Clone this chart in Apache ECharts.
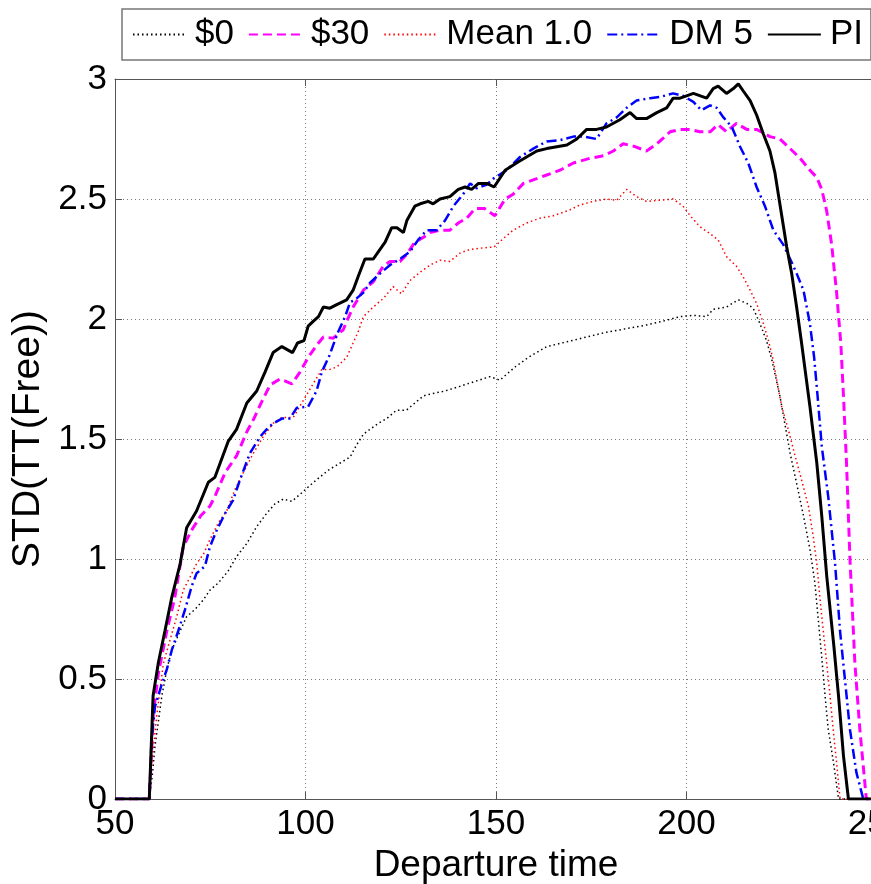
<!DOCTYPE html>
<html>
<head>
<meta charset="utf-8">
<script src="https://cdn.jsdelivr.net/npm/echarts@6/dist/echarts.min.js"></script>
<style>
html,body{margin:0;padding:0;background:#fff;}
#chart{width:871px;height:884px;}
</style>
</head>
<body>
<div id="chart"></div>
<script>
const seriesNames = ['$0', '$30', 'Mean 1.0', 'DM 5', 'PI'];
const xTicks = [50, 100, 150, 200, 250];
const yTicks = [0, 0.5, 1, 1.5, 2, 2.5, 3];

const s0Data = [[50,0],[59,0],[59.8,0.1],[60.5,0.22],[62.3,0.43],[63.6,0.54],[64.9,0.62],[67.1,0.70],[68.8,0.76],[71,0.79],[73.2,0.83],[74.9,0.87],[77.1,0.90],[79.7,0.95],[81.9,1.01],[84.6,1.065],[87.2,1.135],[89.8,1.19],[92,1.23],[94.2,1.25],[96.4,1.24],[98.6,1.27],[100.7,1.30],[102.9,1.33],[106,1.37],[109.1,1.40],[111.7,1.425],[113.4,1.475],[115.2,1.52],[116.9,1.54],[119.1,1.565],[121.3,1.585],[123.9,1.62],[126.5,1.62],[128.7,1.65],[131,1.68],[133.5,1.69],[136.6,1.70],[140.6,1.72],[144.5,1.74],[148.4,1.76],[151,1.745],[155,1.80],[158.5,1.84],[163.3,1.885],[168.6,1.905],[173.8,1.925],[179,1.945],[184.3,1.96],[189.5,1.975],[194.8,1.995],[198.3,2.01],[201.8,2.015],[205.3,2.01],[207,2.04],[210.5,2.05],[213.6,2.08],[215.8,2.065],[217.5,2.045],[219.3,1.98],[221,1.91],[222.4,1.83],[224.5,1.68],[225.8,1.565],[227.2,1.44],[228.9,1.315],[230.7,1.18],[232.4,1.04],[233.7,0.90],[234.6,0.745],[235.5,0.59],[236.4,0.425],[237.2,0.29],[238.6,0.15],[239.9,0],[250,0]];

const s30Data = [[50,0],[59,0],[60.1,0.36],[61.4,0.525],[63.6,0.70],[65.7,0.84],[67.9,1.05],[70.1,1.12],[72.5,1.18],[74.9,1.22],[76.2,1.26],[78.9,1.36],[81.9,1.43],[84.6,1.53],[86.3,1.58],[88.5,1.655],[90.7,1.725],[93.3,1.75],[96.4,1.73],[98.6,1.78],[100.7,1.84],[102.9,1.89],[104.7,1.925],[107.3,1.92],[109.9,1.955],[110.8,1.99],[112.5,2.05],[115.2,2.12],[117.8,2.155],[120.4,2.22],[122.2,2.24],[124.8,2.24],[126.6,2.27],[128.7,2.32],[130.9,2.34],[132.7,2.36],[135.3,2.37],[137.9,2.37],[140.1,2.40],[142.3,2.42],[144.5,2.46],[147,2.46],[149.7,2.43],[152.4,2.50],[154.5,2.52],[157.2,2.565],[160.7,2.585],[163.3,2.60],[166.8,2.62],[170.3,2.65],[174.7,2.67],[178.2,2.68],[180.8,2.70],[183.4,2.73],[186.1,2.72],[189.5,2.70],[192.2,2.73],[195.7,2.78],[198.3,2.79],[200.9,2.79],[203.5,2.78],[206.2,2.78],[208.3,2.81],[210.5,2.78],[213.1,2.815],[215.8,2.79],[218.4,2.79],[221.9,2.76],[224.5,2.75],[227.2,2.71],[229.8,2.67],[232.4,2.62],[234.2,2.59],[235.5,2.54],[236.8,2.45],[238.1,2.31],[239.4,2.11],[240.5,1.90],[241.2,1.68],[242,1.40],[242.9,1.00],[244.2,0.565],[245.5,0.29],[247.2,0],[250,0]];

const meanData = [[50,0],[59,0],[59.5,0.12],[60.9,0.34],[62.7,0.565],[64.4,0.66],[66.2,0.76],[67.9,0.87],[69.7,0.925],[71.4,0.98],[73.2,1.02],[74.9,1.08],[77.1,1.15],[79.3,1.20],[81.5,1.29],[83.7,1.36],[86.3,1.44],[88.9,1.51],[91.5,1.565],[93.8,1.59],[96.8,1.59],[99.4,1.66],[102,1.73],[104.3,1.79],[106.4,1.79],[108.2,1.80],[110.8,1.84],[112.5,1.90],[113.9,1.95],[115.2,2.01],[117.8,2.05],[120.4,2.085],[123,2.135],[125.2,2.105],[127.4,2.16],[130.1,2.195],[132.7,2.225],[135.3,2.245],[137.9,2.24],[140.6,2.275],[143.2,2.29],[145.8,2.295],[149.5,2.30],[151.9,2.335],[154.5,2.37],[158,2.40],[161.5,2.42],[165,2.43],[169.4,2.455],[172,2.475],[175.5,2.49],[179,2.50],[181.7,2.495],[184.3,2.54],[186.9,2.51],[189.5,2.49],[193,2.495],[196.5,2.50],[199.1,2.47],[201,2.43],[203.5,2.385],[206.2,2.355],[208.3,2.33],[210.5,2.26],[213.1,2.22],[214.9,2.175],[216.7,2.12],[218.4,2.065],[220.2,1.98],[221.5,1.91],[222.6,1.84],[223.7,1.745],[225,1.635],[226.7,1.54],[228.5,1.43],[230.2,1.33],[232,1.22],[233.3,1.09],[234.2,0.98],[235,0.84],[235.9,0.70],[236.8,0.565],[237.7,0.425],[238.5,0.29],[239.4,0.15],[240.3,0],[250,0]];

const dm5Data = [[50,0],[59,0],[59.6,0.25],[60.5,0.385],[62.3,0.48],[63.6,0.54],[64.9,0.62],[66.6,0.70],[68.4,0.79],[70.1,0.885],[71.4,0.94],[73.6,0.97],[74.9,1.05],[76.7,1.12],[78.9,1.19],[81,1.245],[82.8,1.33],[85.4,1.44],[88.1,1.51],[89.8,1.54],[91.5,1.565],[93.8,1.585],[95.9,1.585],[97.7,1.63],[100.7,1.635],[102.9,1.70],[104.3,1.78],[106.2,1.845],[108.4,1.94],[110.4,2.01],[111.7,2.07],[113,2.08],[115.2,2.11],[116.9,2.15],[119.6,2.19],[122.2,2.225],[124.8,2.25],[127.4,2.28],[129.6,2.33],[131.8,2.37],[134.4,2.37],[136.6,2.41],[138.8,2.47],[141.4,2.52],[143.2,2.565],[144.9,2.545],[147.6,2.56],[149.3,2.585],[152.8,2.62],[156.3,2.675],[159.8,2.71],[163.3,2.74],[166.8,2.745],[170.3,2.76],[172.9,2.76],[176.4,2.75],[179,2.815],[181.7,2.84],[184.3,2.88],[186.9,2.91],[190.4,2.92],[193,2.925],[196.5,2.94],[199.1,2.93],[201.8,2.905],[203.9,2.87],[206.2,2.89],[207.9,2.88],[209.7,2.84],[211.9,2.80],[214,2.72],[216.2,2.65],[218.4,2.55],[220.6,2.47],[222.8,2.37],[225.4,2.31],[227.2,2.25],[228.9,2.19],[230.7,2.12],[232.4,1.98],[233.5,1.84],[234.4,1.68],[235.5,1.47],[237.2,1.26],[239,0.98],[240.3,0.70],[241.6,0.495],[242.9,0.29],[244.6,0.11],[246.4,0],[250,0]];

const piData = [[50,0],[59,0],[60,0.43],[61.4,0.57],[63.1,0.70],[64.9,0.84],[67.1,0.98],[68.8,1.13],[71.4,1.20],[74.5,1.32],[76.2,1.34],[79.7,1.49],[81.9,1.54],[84.6,1.65],[87.2,1.70],[89.4,1.78],[91.5,1.86],[93.8,1.885],[96.6,1.86],[97.9,1.90],[99.6,1.91],[100.7,1.97],[102,1.99],[103.4,2.01],[104.7,2.05],[106.4,2.045],[108.2,2.06],[110.8,2.08],[112.5,2.12],[113.9,2.18],[115.6,2.25],[117.8,2.25],[119.1,2.28],[120.9,2.32],[122.6,2.38],[124,2.38],[125.7,2.36],[126.6,2.41],[128.7,2.47],[130.1,2.48],[132.2,2.49],[133.5,2.48],[135.3,2.50],[137.9,2.51],[140.1,2.54],[141.9,2.55],[143.6,2.54],[145.4,2.565],[147.6,2.565],[149.5,2.55],[152.4,2.62],[155.9,2.655],[160.7,2.70],[163.3,2.71],[168.6,2.725],[171.2,2.75],[173.8,2.79],[176.4,2.79],[179,2.80],[182.5,2.83],[185.2,2.86],[186.9,2.835],[189.5,2.835],[192.2,2.86],[194.8,2.88],[196.5,2.92],[198.3,2.92],[200,2.93],[201.8,2.94],[205.3,2.92],[207,2.96],[208.3,2.97],[210.5,2.94],[212.3,2.96],[213.6,2.98],[214.9,2.95],[216.7,2.91],[218.4,2.85],[220.2,2.77],[221.9,2.70],[223.2,2.61],[224.1,2.52],[225,2.43],[226.3,2.30],[227.6,2.19],[228.9,2.05],[230.2,1.90],[232.4,1.635],[234.2,1.40],[235.5,1.18],[236.8,0.93],[238.6,0.65],[239.9,0.43],[241.2,0.18],[242.5,0],[250,0]];

const FONT = '"Liberation Sans", Arial, Helvetica, sans-serif';
const chart = echarts.init(document.getElementById('chart'), null, {renderer: 'canvas'});

function mkSeries(name, data, color, width, type) {
  return {
    name: name, type: 'line', data: data, symbol: 'none', showSymbol: false, smooth: false,
    legendIcon: 'none',
    xAxisIndex: 0, yAxisIndex: 0, clip: true,
    lineStyle: {color: color, width: width, type: type},
    itemStyle: {color: color},
    emphasis: {disabled: true}
  };
}

const gridStyle = {show: true, lineStyle: {color: '#7a7a7a', width: 1, type: [1, 3]}};

chart.setOption({
  animation: false,
  backgroundColor: '#fff',
  grid: {left: 115, top: 79, width: 762, height: 720, containLabel: false, outerBoundsMode: 'none'},
  legend: {
    data: seriesNames,
    left: 122, top: 9,
    orient: 'horizontal',
    itemWidth: 53, itemHeight: 14, itemGap: 14,
    padding: [8, 8, 8, 10],
    borderColor: '#777', borderWidth: 1.5,
    backgroundColor: '#fff',
    itemStyle: {opacity: 0, borderWidth: 0},
    textStyle: {fontFamily: FONT, fontSize: 35, color: '#000', padding: [0, 0, 0, 4]}
  },
  xAxis: [{
    type: 'value', min: xTicks[0], max: xTicks[xTicks.length - 1], interval: 50,
    position: 'bottom',
    name: 'Departure time', nameLocation: 'middle', nameGap: 41,
    nameTextStyle: {fontFamily: FONT, fontSize: 37, color: '#000'},
    axisLine: {show: true, onZero: false, lineStyle: {color: '#555', width: 1}},
    axisTick: {show: true, inside: true, length: 7, lineStyle: {color: '#555'}},
    axisLabel: {fontFamily: FONT, fontSize: 35, color: '#000', margin: 8, showMaxLabel: true, showMinLabel: true, hideOverlap: false},
    splitLine: gridStyle
  }, {
    type: 'value', min: xTicks[0], max: xTicks[xTicks.length - 1], interval: 50,
    position: 'top',
    axisLine: {show: true, onZero: false, lineStyle: {color: '#555', width: 1}},
    axisTick: {show: true, inside: true, length: 7, lineStyle: {color: '#555'}},
    axisLabel: {show: false},
    splitLine: {show: false}
  }],
  yAxis: [{
    type: 'value', min: yTicks[0], max: yTicks[yTicks.length - 1], interval: 0.5,
    position: 'left',
    name: 'STD(TT(Free))', nameLocation: 'middle', nameGap: 66, nameRotate: 90,
    nameTextStyle: {fontFamily: FONT, fontSize: 39, color: '#000'},
    axisLine: {show: true, onZero: false, lineStyle: {color: '#555', width: 1}},
    axisTick: {show: true, inside: true, length: 7, lineStyle: {color: '#555'}},
    axisLabel: {fontFamily: FONT, fontSize: 35, color: '#000', margin: 8},
    splitLine: gridStyle
  }],
  series: [
    mkSeries(seriesNames[0], s0Data, '#000000', 1.5, [1.5, 3]),
    mkSeries(seriesNames[1], s30Data, '#ff00ff', 3, [9, 5]),
    mkSeries(seriesNames[2], meanData, '#ff0000', 1.5, [1.5, 3]),
    mkSeries(seriesNames[3], dm5Data, '#0000ff', 2.5, [10, 4, 2, 4]),
    mkSeries(seriesNames[4], piData, '#000000', 3, 'solid')
  ]
});
</script>
</body>
</html>
